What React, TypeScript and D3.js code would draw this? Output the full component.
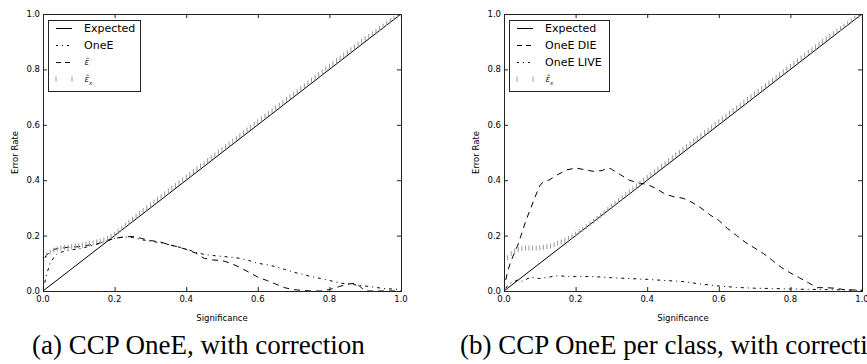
import React from "react";
import * as d3 from "d3";

const W = 867;
const H = 364;

const TICKS = [0, 0.2, 0.4, 0.6, 0.8, 1.0];
const TICK_LABELS = ["0.0", "0.2", "0.4", "0.6", "0.8", "1.0"];

const EXPECTED_X = [0, 1];
const EXPECTED_Y = [0, 1];

const GRID_X = [0.005, 0.01, 0.02, 0.03, 0.04, 0.05, 0.075, 0.1, 0.125, 0.15, 0.175, 0.2, 0.225, 0.25, 0.275, 0.3, 0.325, 0.35, 0.375, 0.4, 0.425, 0.45, 0.475, 0.5, 0.525, 0.55, 0.575, 0.6, 0.625, 0.65, 0.675, 0.7, 0.725, 0.75, 0.775, 0.8, 0.825, 0.85, 0.875, 0.9, 0.925, 0.95, 0.975, 1.0];

// (a) OneE
const LEFT_ONEE = [0.03, 0.06, 0.10, 0.12, 0.135, 0.14, 0.148, 0.152, 0.16, 0.168, 0.18, 0.19, 0.195, 0.193, 0.185, 0.18, 0.175, 0.168, 0.16, 0.152, 0.14, 0.132, 0.128, 0.125, 0.122, 0.118, 0.11, 0.1, 0.095, 0.088, 0.078, 0.068, 0.06, 0.052, 0.045, 0.038, 0.03, 0.025, 0.022, 0.018, 0.014, 0.009, 0.007, 0.005];
// (a) eps-hat
const LEFT_EPS = [0.12, 0.13, 0.14, 0.15, 0.153, 0.155, 0.158, 0.16, 0.165, 0.17, 0.18, 0.19, 0.195, 0.197, 0.19, 0.182, 0.178, 0.168, 0.16, 0.15, 0.138, 0.118, 0.112, 0.11, 0.1, 0.085, 0.068, 0.05, 0.038, 0.025, 0.012, 0.005, 0.002, 0.0, 0.0, 0.005, 0.015, 0.025, 0.028, 0.0, 0.0, 0.0, 0.0, 0.0];
// (b) OneE DIE
const RIGHT_DIE_X = [0.005, 0.01, 0.02, 0.03, 0.04, 0.05, 0.06, 0.075, 0.09, 0.1, 0.11, 0.125, 0.15, 0.175, 0.2, 0.225, 0.25, 0.275, 0.29, 0.3, 0.325, 0.35, 0.375, 0.4, 0.425, 0.45, 0.475, 0.5, 0.525, 0.55, 0.575, 0.6, 0.625, 0.65, 0.675, 0.7, 0.725, 0.75, 0.775, 0.8, 0.825, 0.85, 0.875, 0.9, 0.925, 0.95, 0.975, 1.0];
const RIGHT_DIE = [0.04, 0.07, 0.11, 0.14, 0.17, 0.21, 0.25, 0.30, 0.35, 0.38, 0.395, 0.40, 0.42, 0.437, 0.444, 0.438, 0.432, 0.435, 0.445, 0.44, 0.42, 0.40, 0.39, 0.385, 0.37, 0.35, 0.34, 0.335, 0.32, 0.30, 0.275, 0.255, 0.225, 0.2, 0.175, 0.155, 0.135, 0.11, 0.085, 0.065, 0.048, 0.03, 0.012, 0.012, 0.01, 0.005, 0.004, 0.003];
// (b) OneE LIVE
const RIGHT_LIVE_X = [0.005, 0.01, 0.02, 0.03, 0.04, 0.05, 0.075, 0.1, 0.125, 0.15, 0.175, 0.2, 0.25, 0.3, 0.35, 0.4, 0.45, 0.5, 0.55, 0.6, 0.65, 0.7, 0.75, 0.8, 0.85, 0.9, 0.95, 1.0];
const RIGHT_LIVE = [0.01, 0.02, 0.03, 0.035, 0.04, 0.035, 0.05, 0.045, 0.05, 0.055, 0.053, 0.052, 0.052, 0.048, 0.045, 0.042, 0.038, 0.034, 0.025, 0.018, 0.013, 0.01, 0.009, 0.007, 0.006, 0.005, 0.004, 0.002];

// eps-hat_x markers, x = 0.01 .. 1.00
const EPSX_X = [
  0.01, 0.02, 0.03, 0.04, 0.05, 0.06, 0.07, 0.08, 0.09, 0.10,
  0.11, 0.12, 0.13, 0.14, 0.15, 0.16, 0.17, 0.18, 0.19, 0.20,
  0.21, 0.22, 0.23, 0.24, 0.25, 0.26, 0.27, 0.28, 0.29, 0.30,
  0.31, 0.32, 0.33, 0.34, 0.35, 0.36, 0.37, 0.38, 0.39, 0.40,
  0.41, 0.42, 0.43, 0.44, 0.45, 0.46, 0.47, 0.48, 0.49, 0.50,
  0.51, 0.52, 0.53, 0.54, 0.55, 0.56, 0.57, 0.58, 0.59, 0.60,
  0.61, 0.62, 0.63, 0.64, 0.65, 0.66, 0.67, 0.68, 0.69, 0.70,
  0.71, 0.72, 0.73, 0.74, 0.75, 0.76, 0.77, 0.78, 0.79, 0.80,
  0.81, 0.82, 0.83, 0.84, 0.85, 0.86, 0.87, 0.88, 0.89, 0.90,
  0.91, 0.92, 0.93, 0.94, 0.95, 0.96, 0.97, 0.98, 0.99, 1.00,
];
const LEFT_EPSX = [
  0.130, 0.140, 0.148, 0.152, 0.155, 0.157, 0.158, 0.160, 0.162, 0.163,
  0.165, 0.168, 0.170, 0.173, 0.177, 0.180, 0.185, 0.190, 0.197, 0.205,
  0.215, 0.226, 0.237, 0.248, 0.259, 0.270, 0.281, 0.291, 0.301, 0.311,
  0.321, 0.331, 0.341, 0.351, 0.361, 0.371, 0.381, 0.391, 0.401, 0.411,
  0.421, 0.431, 0.441, 0.451, 0.461, 0.471, 0.481, 0.491, 0.501, 0.511,
  0.521, 0.531, 0.541, 0.551, 0.561, 0.571, 0.581, 0.591, 0.601, 0.611,
  0.621, 0.631, 0.641, 0.651, 0.661, 0.671, 0.681, 0.691, 0.701, 0.711,
  0.721, 0.731, 0.741, 0.751, 0.761, 0.771, 0.781, 0.791, 0.801, 0.811,
  0.821, 0.831, 0.841, 0.851, 0.861, 0.871, 0.881, 0.891, 0.901, 0.911,
  0.920, 0.929, 0.938, 0.947, 0.956, 0.966, 0.975, 0.985, 0.993, 1.000,
];
const RIGHT_EPSX = [
  0.120, 0.135, 0.145, 0.150, 0.153, 0.155, 0.155, 0.155, 0.155, 0.156,
  0.158, 0.160, 0.163, 0.167, 0.172, 0.177, 0.183, 0.190, 0.197, 0.205,
  0.214, 0.223, 0.232, 0.242, 0.252, 0.262, 0.272, 0.283, 0.294, 0.305,
  0.316, 0.327, 0.337, 0.348, 0.358, 0.368, 0.379, 0.389, 0.399, 0.410,
  0.420, 0.430, 0.440, 0.450, 0.460, 0.471, 0.481, 0.491, 0.501, 0.511,
  0.521, 0.531, 0.541, 0.551, 0.561, 0.571, 0.581, 0.591, 0.601, 0.611,
  0.621, 0.631, 0.641, 0.651, 0.661, 0.671, 0.681, 0.691, 0.701, 0.711,
  0.721, 0.731, 0.741, 0.751, 0.761, 0.771, 0.781, 0.791, 0.801, 0.811,
  0.821, 0.831, 0.841, 0.851, 0.861, 0.871, 0.881, 0.891, 0.901, 0.911,
  0.920, 0.929, 0.938, 0.947, 0.956, 0.966, 0.975, 0.985, 0.993, 1.000,
];

const CAPTIONS = ["(a) CCP OneE, with correction", "(b) CCP OneE per class, with correction"];

const SANS = "'DejaVu Sans', sans-serif";
const SERIF = "'Liberation Serif', 'DejaVu Serif', serif";
const MARKER_COLOR = "#999";
const DASH = "6,5";
const DASHDOT = "3,4,1,4";

type LineSpec = { kind: "line"; xs: number[]; ys: number[]; dash?: string };
type MarkSpec = { kind: "marks"; xs: number[]; ys: number[] };
type Spec = LineSpec | MarkSpec;
type LegendItem = { label: string; type: "solid" | "dash" | "dashdot" | "marks"; math?: "eps" | "epsx" };

const AX_W = 358;
const TOP = 14;
const BOTTOM = 291;

function Panel(props: { left: number; id: string; specs: Spec[]; legend: LegendItem[]; legendW: number }) {
  const { left, id, specs, legend, legendW } = props;
  const x = d3.scaleLinear().domain([0, 1]).range([left, left + AX_W]);
  const y = d3.scaleLinear().domain([0, 1]).range([BOTTOM, TOP]);
  const line = d3
    .line<[number, number]>()
    .x((d) => x(d[0]))
    .y((d) => y(d[1]));

  const lgX = left + 5;
  const lgY = 20;
  const rowY = [28, 45, 62, 79];

  return (
    <g>
      <defs>
        <clipPath id={`clip-${id}`}>
          <rect x={left} y={TOP} width={AX_W} height={BOTTOM - TOP} />
        </clipPath>
      </defs>
      <g clipPath={`url(#clip-${id})`}>
        {specs.map((s, i) => {
          const pts = s.xs.map((v, j) => [v, s.ys[j]] as [number, number]);
          if (s.kind === "line") {
            return (
              <path
                key={i}
                d={line(pts) || ""}
                fill="none"
                stroke="#000"
                strokeWidth={1}
                strokeDasharray={s.dash}
              />
            );
          }
          return (
            <g key={i} stroke={MARKER_COLOR} strokeWidth={1}>
              {pts.map((p, j) => (
                <line key={j} x1={x(p[0])} x2={x(p[0])} y1={y(p[1]) - 2.5} y2={y(p[1]) + 2.5} />
              ))}
            </g>
          );
        })}
      </g>
      <rect x={left + 0.5} y={TOP + 0.5} width={AX_W} height={BOTTOM - TOP} fill="none" stroke="#222" strokeWidth={1} />
      {TICKS.map((t, i) => (
        <g key={i} stroke="#222" strokeWidth={1}>
          <line x1={x(t) + 0.5} x2={x(t) + 0.5} y1={BOTTOM} y2={BOTTOM - 4} />
          <line x1={x(t) + 0.5} x2={x(t) + 0.5} y1={TOP} y2={TOP + 4} />
          <line x1={left} x2={left + 4} y1={y(t) + 0.5} y2={y(t) + 0.5} />
          <line x1={left + AX_W} x2={left + AX_W - 4} y1={y(t) + 0.5} y2={y(t) + 0.5} />
        </g>
      ))}
      {TICKS.map((t, i) => (
        <text key={`xl${i}`} x={x(t)} y={BOTTOM + 11} fontFamily={SANS} fontSize={8.5} textAnchor="middle" fill="#000">
          {TICK_LABELS[i]}
        </text>
      ))}
      {TICKS.map((t, i) => (
        <text key={`yl${i}`} x={left - 3} y={y(t) + 3} fontFamily={SANS} fontSize={8.5} textAnchor="end" fill="#000">
          {TICK_LABELS[i]}
        </text>
      ))}
      <text x={left + AX_W / 2} y={BOTTOM + 30} fontFamily={SANS} fontSize={8.5} textAnchor="middle">
        Significance
      </text>
      <text
        transform={`translate(${left - 25},${(TOP + BOTTOM) / 2}) rotate(-90)`}
        fontFamily={SANS}
        fontSize={8.5}
        textAnchor="middle"
      >
        Error Rate
      </text>
      <rect x={lgX + 0.5} y={lgY + 0.5} width={legendW} height={71} fill="#fff" stroke="#222" strokeWidth={1} />
      {legend.map((it, i) => {
        const cy = rowY[i];
        const sx0 = lgX + 8;
        const sx1 = lgX + 24;
        let sample: React.ReactNode = null;
        if (it.type === "marks") {
          sample = (
            <g stroke={MARKER_COLOR} strokeWidth={1}>
              <line x1={sx0} x2={sx0} y1={cy - 2.5} y2={cy + 2.5} />
              <line x1={sx1} x2={sx1} y1={cy - 2.5} y2={cy + 2.5} />
            </g>
          );
        } else {
          sample = (
            <line
              x1={sx0}
              x2={sx1}
              y1={cy + 0.5}
              y2={cy + 0.5}
              stroke="#000"
              strokeWidth={1}
              strokeDasharray={it.type === "dash" ? "5,4" : it.type === "dashdot" ? "2,4,1,4" : undefined}
            />
          );
        }
        const tx = lgX + 36;
        let label: React.ReactNode;
        if (it.math) {
          label = (
            <text x={tx + 0.5} y={cy + 3} fontFamily={SANS} fontSize={8.5} fill="#222">
              <tspan fontStyle="italic">{"\u03B5\u0302"}</tspan>
              {it.math === "epsx" ? (
                <tspan fontSize={5.5} fontStyle="italic" dy={2.5}>
                  x
                </tspan>
              ) : null}
            </text>
          );
        } else {
          label = (
            <text x={tx} y={cy + 4} fontFamily={SANS} fontSize={11} fill="#000">
              {it.label}
            </text>
          );
        }
        return (
          <g key={i}>
            {sample}
            {label}
          </g>
        );
      })}
    </g>
  );
}

export default function App() {
  const leftSpecs: Spec[] = [
    { kind: "line", xs: EXPECTED_X, ys: EXPECTED_Y },
    { kind: "line", xs: GRID_X, ys: LEFT_ONEE, dash: DASHDOT },
    { kind: "line", xs: GRID_X, ys: LEFT_EPS, dash: DASH },
    { kind: "marks", xs: EPSX_X, ys: LEFT_EPSX },
  ];
  const rightSpecs: Spec[] = [
    { kind: "line", xs: EXPECTED_X, ys: EXPECTED_Y },
    { kind: "line", xs: RIGHT_DIE_X, ys: RIGHT_DIE, dash: DASH },
    { kind: "line", xs: RIGHT_LIVE_X, ys: RIGHT_LIVE, dash: DASHDOT },
    { kind: "marks", xs: EPSX_X, ys: RIGHT_EPSX },
  ];
  const leftLegend: LegendItem[] = [
    { label: "Expected", type: "solid" },
    { label: "OneE", type: "dashdot" },
    { label: "ε̂", type: "dash", math: "eps" },
    { label: "ε̂x", type: "marks", math: "epsx" },
  ];
  const rightLegend: LegendItem[] = [
    { label: "Expected", type: "solid" },
    { label: "OneE DIE", type: "dash" },
    { label: "OneE LIVE", type: "dashdot" },
    { label: "ε̂x", type: "marks", math: "epsx" },
  ];
  return (
    <svg
      width={W}
      height={H}
      viewBox={`0 0 ${W} ${H}`}
      style={{ position: "absolute", left: 0, top: 0, background: "#fff" }}
    >
      <rect x={0} y={0} width={W} height={H} fill="#fff" />
      <Panel left={43} id="a" specs={leftSpecs} legend={leftLegend} legendW={92} />
      <Panel left={504} id="b" specs={rightSpecs} legend={rightLegend} legendW={100} />
      <text x={32} y={354} fontFamily={SERIF} fontSize={27} fill="#000">
        {CAPTIONS[0]}
      </text>
      <text x={460} y={354} fontFamily={SERIF} fontSize={27} fill="#000">
        {CAPTIONS[1]}
      </text>
    </svg>
  );
}
